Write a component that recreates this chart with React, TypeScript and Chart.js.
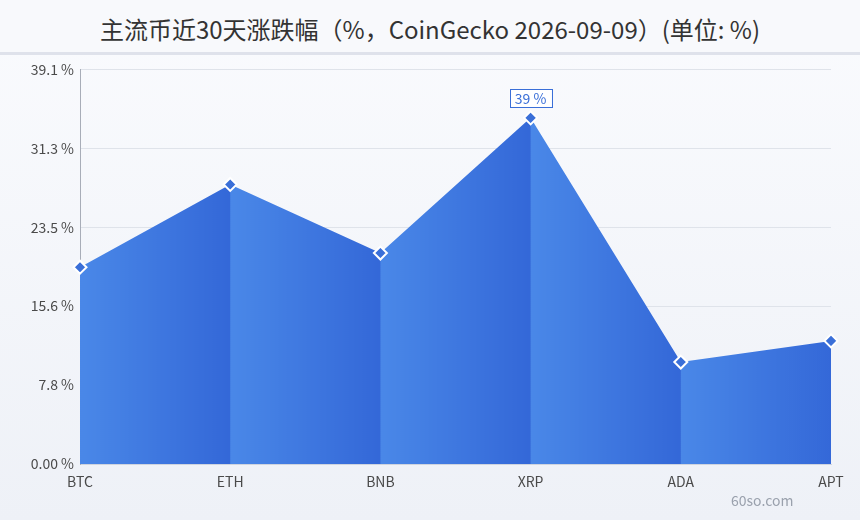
import React, { useEffect, useRef } from "react";
import { Chart, registerables } from "chart.js";

Chart.register(...registerables);

const TITLE = "主流币近30天涨跌幅（%，CoinGecko 2026-09-09）(单位: %)";
const CATEGORIES = ["BTC", "ETH", "BNB", "XRP", "ADA", "APT"];
const VALUES = [19.5, 27.7, 20.9, 34.3, 10.1, 12.2];
const Y_TICKS = [0, 7.82, 15.64, 23.46, 31.28, 39.1];
const Y_TICK_LABELS = ["0.00 %", "7.8 %", "15.6 %", "23.5 %", "31.3 %", "39.1 %"];
const PEAK_INDEX = 3;
const PEAK_LABEL = "39 %";
const WATERMARK = "60so.com";

const FONT = '"Noto Sans CJK SC", "Noto Sans", sans-serif';

export default function App() {
  const ref = useRef<HTMLCanvasElement | null>(null);

  useEffect(() => {
    if (!ref.current) return;
    let cache: { key: string; pat: CanvasPattern } | null = null;

    const fillPattern = (c: any) => {
      const chart = c.chart;
      const xs = chart.scales?.x;
      if (!chart.chartArea || !xs) return "#3f7ae0";
      const x0 = xs.getPixelForValue(0);
      const x1 = xs.getPixelForValue(1);
      const segW = x1 - x0;
      const key = x0 + ":" + segW;
      if (cache && cache.key === key) return cache.pat;
      const w = Math.max(1, Math.round(segW));
      const off = document.createElement("canvas");
      off.width = w;
      off.height = 2;
      const octx = off.getContext("2d")!;
      const g = octx.createLinearGradient(0, 0, w, 0);
      g.addColorStop(0, "#4a88e8");
      g.addColorStop(1, "#3468d8");
      octx.fillStyle = g;
      octx.fillRect(0, 0, w, 2);
      const pat = chart.ctx.createPattern(off, "repeat")!;
      pat.setTransform(new DOMMatrix().translate(x0, 0).scale(segW / w, 1));
      cache = { key, pat };
      return pat;
    };

    const peakPlugin = {
      id: "peakLabel",
      afterDatasetsDraw(chart: any) {
        const meta = chart.getDatasetMeta(0);
        const pt = meta.data[PEAK_INDEX];
        if (!pt) return;
        const ctx = chart.ctx;
        ctx.save();
        ctx.font = "14px " + FONT;
        const tw = ctx.measureText(PEAK_LABEL).width;
        const bw = tw + 10;
        const bh = 18;
        const bx = pt.x - bw / 2;
        const by = pt.y - 29;
        ctx.fillStyle = "rgba(255,255,255,0.9)";
        ctx.fillRect(bx, by, bw, bh);
        ctx.strokeStyle = "#3a6fd8";
        ctx.lineWidth = 1;
        ctx.strokeRect(Math.round(bx) + 0.5, Math.round(by) + 0.5, Math.round(bw), bh);
        ctx.fillStyle = "#3a6fd8";
        ctx.textAlign = "center";
        ctx.textBaseline = "middle";
        ctx.fillText(PEAK_LABEL, pt.x, by + bh / 2 + 0.5);
        ctx.restore();
      },
    };

    const chart = new Chart(ref.current, {
      type: "line",
      data: {
        labels: CATEGORIES,
        datasets: [
          {
            data: VALUES,
            fill: "origin",
            backgroundColor: fillPattern,
            borderColor: "transparent",
            borderWidth: 1,
            tension: 0,
            pointStyle: "rectRot",
            pointRadius: 6.5,
            pointHoverRadius: 6.5,
            pointBackgroundColor: "#3a6fd8",
            pointBorderColor: "#ffffff",
            pointBorderWidth: 2,
          },
        ],
      },
      options: {
        animation: false,
        responsive: false,
        maintainAspectRatio: false,
        layout: { padding: { top: 14, right: 29, left: 0, bottom: 0 } },
        plugins: {
          legend: { display: false },
          tooltip: { enabled: false },
          title: { display: false },
        },
        scales: {
          x: {
            offset: false,
            grid: { display: false },
            border: { display: true, color: "#cfd4de" },
            afterFit: (axis: any) => {
              axis.height = 31;
            },
            ticks: {
              color: "#4a4a4a",
              font: { family: FONT, size: 14 },
              padding: 1,
              maxRotation: 0,
            },
          },
          y: {
            min: 0,
            max: 39.1,
            afterBuildTicks: (axis: any) => {
              axis.ticks = Y_TICKS.map((v) => ({ value: v }));
            },
            afterFit: (axis: any) => {
              axis.width = 80;
            },
            grid: { color: "#dfe3ea", drawTicks: false },
            border: { display: true, color: "#a8adb8" },
            ticks: {
              color: "#4a4a4a",
              font: { family: FONT, size: 14 },
              padding: 6,
              callback: (_v: any, i: number) => Y_TICK_LABELS[i],
            },
          },
        },
      },
      plugins: [peakPlugin],
    });
    return () => chart.destroy();
  }, []);

  return (
    <div
      style={{
        position: "fixed",
        left: 0,
        top: 0,
        width: 860,
        height: 520,
        background: "linear-gradient(180deg, #fafbfe 0%, #eef1f7 100%)",
        fontFamily: FONT,
        overflow: "hidden",
      }}
    >
      <div
        style={{
          position: "absolute",
          left: 0,
          top: 0,
          width: 860,
          height: 52,
          background: "#f8f9fc",
          borderBottom: "3px solid #dfe2eb",
          boxSizing: "content-box",
        }}
      />
      <div
        style={{
          position: "absolute",
          left: 0,
          top: 11,
          width: 860,
          textAlign: "center",
          fontSize: 24,
          color: "#333",
          lineHeight: "36px",
          whiteSpace: "nowrap",
        }}
      >
        {TITLE}
      </div>
      <canvas
        ref={ref}
        width={860}
        height={440}
        style={{ position: "absolute", left: 0, top: 55, width: 860, height: 440 }}
      />
      <div
        style={{
          position: "absolute",
          left: 731,
          top: 490,
          fontSize: 14,
          color: "#9aa1ad",
          whiteSpace: "nowrap",
        }}
      >
        {WATERMARK}
      </div>
    </div>
  );
}
